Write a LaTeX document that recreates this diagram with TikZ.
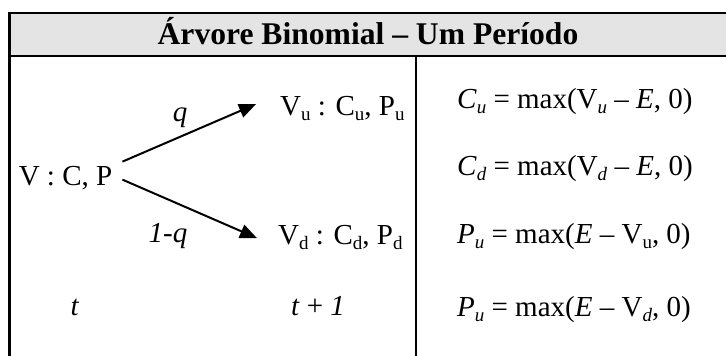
\documentclass[tikz,border=0pt]{standalone}
\usepackage{fontspec}
\setmainfont{Liberation Serif}
\usetikzlibrary{arrows.meta}
\definecolor{headgray}{HTML}{E4E4E4}
\newcommand\lowidx[1]{\raisebox{-0.18em}{\fontsize{19}{19}\selectfont #1}}

\begin{document}
\begin{tikzpicture}[x=1pt,y=-1pt,
  txt/.style={inner sep=0pt,anchor=base,font=\fontsize{29}{34}\selectfont},
  lefttxt/.style={txt,anchor=base west},
  frame/.style={line width=2.6pt,draw=black},
  arrow/.style={-{Triangle[length=17pt,width=14pt]},line width=2pt}
]
\clip (0,0) rectangle (726,356);
\fill[headgray] (9.5,13) rectangle (740,56);
\draw[frame] (740,13) -- (9.5,13) -- (9.5,370);
\draw[frame] (9.5,56) -- (740,56);
\draw[frame] (416,56) -- (416,370);
\node[txt,font=\fontsize{31.6}{36}\selectfont\bfseries] (title) at (368,45) {Árvore Binomial – Um Período};
\node[txt] (root) at (65.5,185) {V : C, P};
\node[lefttxt] (upnode) at (280,115) {V\lowidx{u} : C\lowidx{u}, P\lowidx{u}};
\node[lefttxt] (downnode) at (278,244) {V\lowidx{d} : C\lowidx{d}, P\lowidx{d}};
\node[txt] (probup) at (180,121) {\textit{q}};
\node[txt] (probdown) at (168,242) {\textit{1-q}};
\node[txt] (tnow) at (75,315) {\textit{t}};
\node[txt] (tnext) at (318,315) {\textit{t} + \textit{1}};
\node[lefttxt] (callup) at (457,108) {\textit{C}\lowidx{\textit{u}} = max(V\lowidx{\textit{u}} – \textit{E}, 0)};
\node[lefttxt] (calldown) at (457,175) {\textit{C}\lowidx{\textit{d}} = max(V\lowidx{\textit{d}} – \textit{E}, 0)};
\node[lefttxt] (putup) at (457,243) {\textit{P}\lowidx{\textit{u}} = max(\textit{E} – V\lowidx{u}, 0)};
\node[lefttxt] (putdown) at (457,316) {\textit{P}\lowidx{\textit{u}} = max(\textit{E} – V\lowidx{\textit{d}}, 0)};
\draw[arrow] ([shift={(10pt,16pt)}]root.east) -- ([shift={(-24pt,4pt)}]upnode.west);
\draw[arrow] ([shift={(10pt,-2pt)}]root.east) -- ([shift={(-21pt,-1pt)}]downnode.west);
\end{tikzpicture}
\end{document}
